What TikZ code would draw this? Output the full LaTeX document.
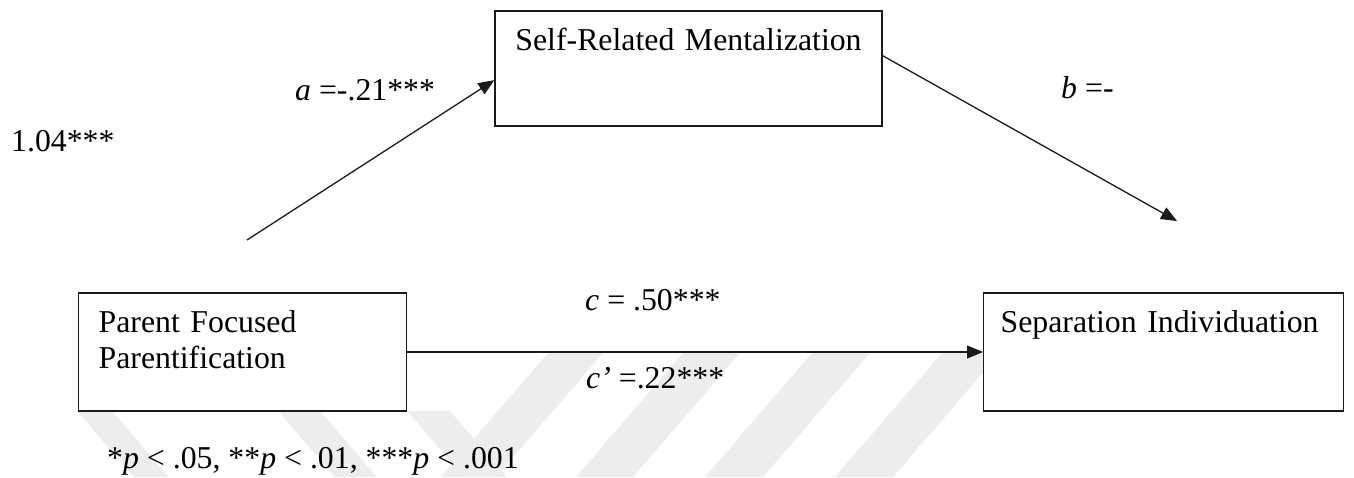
\documentclass[tikz,border=0pt]{standalone}
\usepackage{fontspec}
\setmainfont{Liberation Serif}
\usepackage{tikz}
\usetikzlibrary{
  arrows.meta,
  positioning,
  calc
}
\definecolor{mdLine}{HTML}{1A1A1A}
\definecolor{mdMark}{HTML}{EDEDED}
\newcommand{\diagfont}{\fontsize{31.8}{36}\selectfont}
\tikzset{
  mdnode/.style={
    draw=mdLine, fill=white, line width=1.3pt, inner ysep=0pt,
    font=\diagfont
  },
  varbox/.style={mdnode, align=left, inner xsep=20pt, text height=39pt, text depth=79pt, anchor=base west},
  medbox/.style={mdnode, align=center, inner xsep=0pt},
  effect/.style={-{Triangle[length=16pt, width=13pt]}, line width=1.3pt, mdLine},
  coef/.style={font=\diagfont, inner sep=0pt, anchor=base west},
  stripe/.style={fill=mdMark, draw=none}
}

\begin{document}
\begin{tikzpicture}[x=1pt, y=-1pt]
  \useasboundingbox (0,0) rectangle (1354,477);
  % faint watermark bands behind the model
  \foreach \t/\w in {548/55, 683/57, 812/58, 942/58}{\fill[stripe] (\t,353) -- ++(\w,0) -- ++(-107,124) -- ++(-\w,0) -- cycle;}
  \foreach \t/\w in {77/35, 278/42, 407/43}{\fill[stripe] (\t,411) -- ++(\w,0) -- ++(57,66) -- ++(-\w,0) -- cycle;}

  \node[medbox, text width=387pt, text height=39pt, text depth=76pt, anchor=base] (srm) at (688.5,50) {Self-Related Mentalization};
  \node[varbox, text width=288pt] (pfp) at (78,332) {Parent Focused\\Parentification};
  \node[varbox, inner xsep=17pt, text width=326pt] (sep) at (983,332) {Separation Individuation};

  \coordinate (aStart) at (247,240);
  \coordinate (bTip) at (1177,221);
  \draw[effect] (aStart) -- ($(srm.north west)!0.6!(srm.south west)$);
  \draw[effect] ($(srm.north east)!0.39!(srm.south east)$) -- (bTip);
  \draw[effect] (pfp) -- (sep);

  \node[coef] (aLab) at (295,100) {\textit{a} =-.21***};
  \node[coef] (total) at (11,151) {1.04***};
  \node[coef] (bLab) at (1061,98) {\textit{b} =-};
  \node[coef] (cLab) at (585,310) {\textit{c} = .50***};
  \node[coef] (cpLab) at (586,388) {\textit{c’} =.22***};
  \node[coef] (note) at (107,468) {*\textit{p} < .05, **\textit{p} < .01, ***\textit{p} < .001};
\end{tikzpicture}
\end{document}
